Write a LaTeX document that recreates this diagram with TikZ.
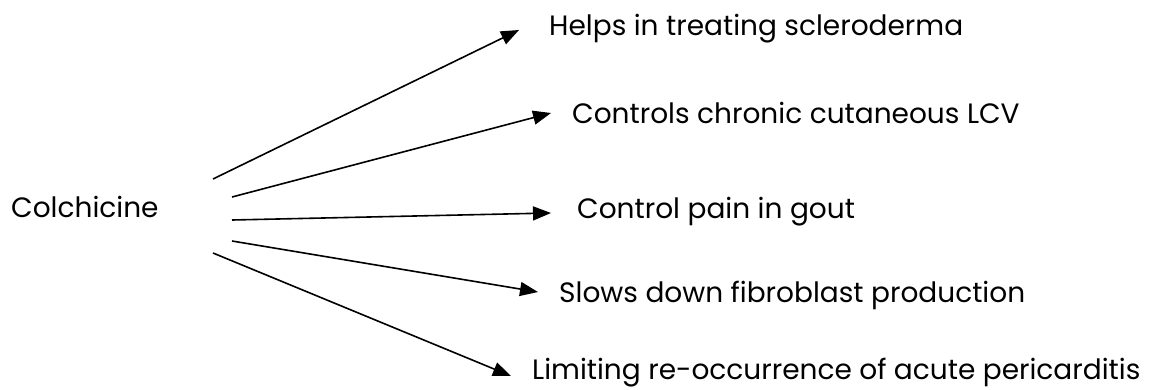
\documentclass[tikz,border=0pt]{standalone}
\usepackage{fontspec}
\setmainfont{Poppins}
\usetikzlibrary{arrows.meta}
\tikzset{
  lbl/.style={anchor=base west, inner sep=0pt, font=\fontsize{28}{32}\selectfont},
  arr/.style={line width=1.6pt, -{Triangle[length=18pt,width=14pt]}}
}
\begin{document}
\begin{tikzpicture}[x=1pt,y=-1pt]
\useasboundingbox (0,0) rectangle (1156,389);
\node[lbl] (c) at (11,217) {Colchicine};
\node[lbl] (h1) at (549,35) {Helps in treating scleroderma};
\node[lbl] (h2) at (572,123) {Controls chronic cutaneous LCV};
\node[lbl] (h3) at (577,218) {Control pain in gout};
\node[lbl] (h4) at (559,302) {Slows down fibroblast production};
\node[lbl] (h5) at (532,379) {Limiting re-occurrence of acute pericarditis};
\coordinate (s1) at (213,179);
\coordinate (s2) at (232,197);
\coordinate (s3) at (232,220);
\coordinate (s4) at (232,241);
\coordinate (s5) at (213,253);
\coordinate (t1) at (519,30);
\coordinate (t2) at (551,113);
\coordinate (t3) at (551,213);
\coordinate (t4) at (538,292);
\coordinate (t5) at (511,376);
\draw[arr] (s1) -- (t1);
\draw[arr] (s2) -- (t2);
\draw[arr] (s3) -- (t3);
\draw[arr] (s4) -- (t4);
\draw[arr] (s5) -- (t5);
\end{tikzpicture}
\end{document}
